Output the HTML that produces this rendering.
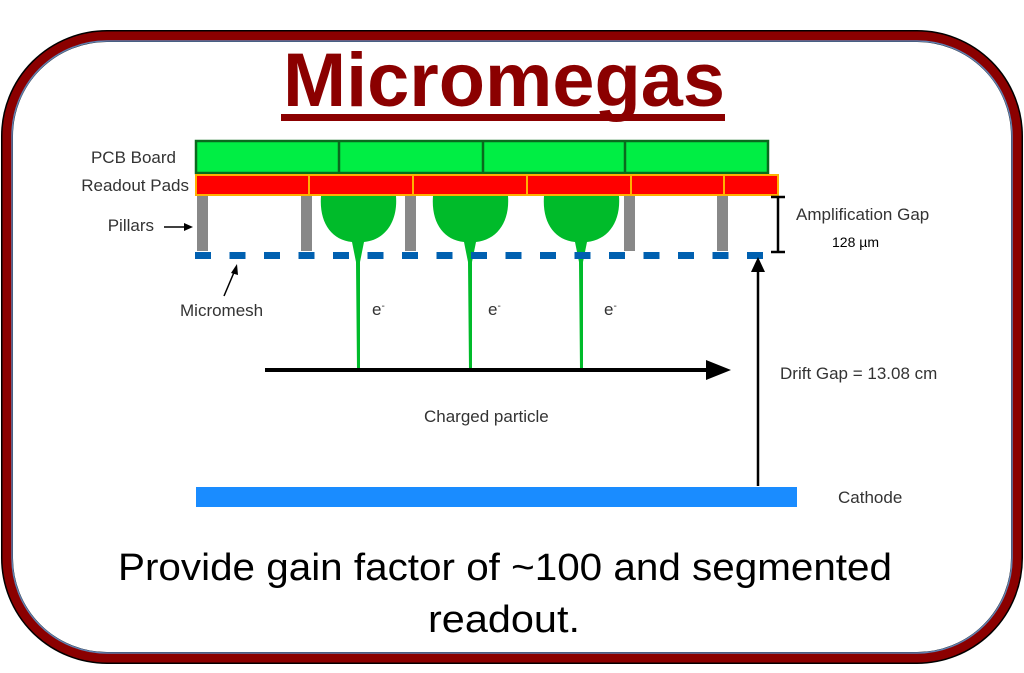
<!DOCTYPE html>
<html><head><meta charset="utf-8"><style>
html,body{margin:0;padding:0;background:#fff;}
svg{display:block;font-family:"Liberation Sans",Arial,sans-serif;}
</style></head><body>
<svg width="1024" height="673" viewBox="0 0 1024 673" xmlns="http://www.w3.org/2000/svg">
<rect x="7" y="36" width="1010" height="622" rx="100" ry="100" fill="#fff" stroke="#000" stroke-width="12"/>
<rect x="7" y="36" width="1010" height="622" rx="100" ry="100" fill="none" stroke="#8b0000" stroke-width="9"/>
<rect x="12" y="41" width="1000" height="612" rx="95" ry="95" fill="none" stroke="#6080b0" stroke-width="1.5"/>
<text x="283" y="106" textLength="442" lengthAdjust="spacingAndGlyphs" font-size="76" font-weight="bold" fill="#8b0000" font-family="Liberation Sans, sans-serif">Micromegas</text>
<rect x="281" y="114" width="444" height="7" fill="#8b0000"/>
<!-- PCB -->
<rect x="196" y="141" width="572" height="32" fill="#00ee44" stroke="#0a6a1e" stroke-width="2.5"/>
<line x1="339" y1="141" x2="339" y2="173" stroke="#0a6a1e" stroke-width="2.5"/>
<line x1="483" y1="141" x2="483" y2="173" stroke="#0a6a1e" stroke-width="2.5"/>
<line x1="625" y1="141" x2="625" y2="173" stroke="#0a6a1e" stroke-width="2.5"/>
<!-- Readout pads -->
<rect x="196" y="175" width="582" height="20" fill="#ff0000" stroke="#ffb000" stroke-width="2"/>
<g stroke="#ffb000" stroke-width="2">
<line x1="309" y1="175" x2="309" y2="195"/><line x1="413" y1="175" x2="413" y2="195"/>
<line x1="527" y1="175" x2="527" y2="195"/><line x1="631" y1="175" x2="631" y2="195"/>
<line x1="724" y1="175" x2="724" y2="195"/></g>
<!-- pillars -->
<g fill="#888">
<rect x="197" y="196" width="11" height="55"/><rect x="301" y="196" width="11" height="55"/>
<rect x="405" y="196" width="11" height="55"/><rect x="624" y="196" width="11" height="55"/>
<rect x="717" y="196" width="11" height="55"/></g>
<!-- avalanche blobs -->
<g fill="#00bb2a">
<path d="M321,196 L396,196 C398,222 385,240 364,242 L360,262 L360,370 L357,370 L356,262 L352,242 C331,240 319,222 321,196 Z"/>
<path d="M433,196 L508,196 C510,222 497,240 476,242 L472,262 L472,370 L469,370 L468,262 L464,242 C443,240 431,222 433,196 Z"/>
<path d="M544,196 L619,196 C621,222 608,240 587,242 L583,262 L583,370 L580,370 L579,262 L575,242 C554,240 542,222 544,196 Z"/>
</g>
<!-- mesh -->
<line x1="195" y1="255.5" x2="768" y2="255.5" stroke="#0060b0" stroke-width="7" stroke-dasharray="16 18.5"/>
<!-- labels -->
<g font-size="17" fill="#333">
<text x="176" y="163" text-anchor="end">PCB Board</text>
<text x="189" y="191" text-anchor="end">Readout Pads</text>
<text x="154" y="231" text-anchor="end">Pillars</text>
<text x="180" y="316">Micromesh</text>
<text x="796" y="220">Amplification Gap</text>
<text x="780" y="379">Drift Gap = 13.08 cm</text>
<text x="424" y="422">Charged particle</text>
<text x="838" y="503">Cathode</text>
<text x="372" y="315">e<tspan font-size="10" dy="-6">-</tspan></text>
<text x="488" y="315">e<tspan font-size="10" dy="-6">-</tspan></text>
<text x="604" y="315">e<tspan font-size="10" dy="-6">-</tspan></text>
</g>
<text x="832" y="247" font-size="14" fill="#000">128 µm</text>
<!-- pillar arrow -->
<line x1="164" y1="227" x2="185" y2="227" stroke="#000" stroke-width="1.5"/>
<path d="M193,227 L184,223 L184,231 Z"/>
<!-- micromesh arrow -->
<line x1="224" y1="296" x2="235" y2="270" stroke="#000" stroke-width="1.5"/>
<path d="M237,264 L231,273 L238,275 Z"/>
<!-- amp gap bracket -->
<g stroke="#000" stroke-width="2.5"><line x1="778" y1="197" x2="778" y2="252"/><line x1="771" y1="197" x2="785" y2="197"/><line x1="771" y1="252" x2="785" y2="252"/></g>
<!-- drift arrow -->
<line x1="758" y1="486" x2="758" y2="270" stroke="#000" stroke-width="2.5"/>
<path d="M758,257 L751,272 L765,272 Z"/>
<!-- particle arrow -->
<line x1="265" y1="370" x2="710" y2="370" stroke="#000" stroke-width="4"/>
<path d="M731,370 L706,360 L706,380 Z"/>
<!-- cathode -->
<rect x="196" y="487" width="601" height="20" fill="#1a8cff"/>
<g font-size="38" fill="#000" font-family="Liberation Sans, sans-serif">
<text x="118" y="580" textLength="774" lengthAdjust="spacingAndGlyphs">Provide gain factor of ~100 and segmented</text>
<text x="428" y="632" textLength="152" lengthAdjust="spacingAndGlyphs">readout.</text></g>
</svg>
</body></html>
